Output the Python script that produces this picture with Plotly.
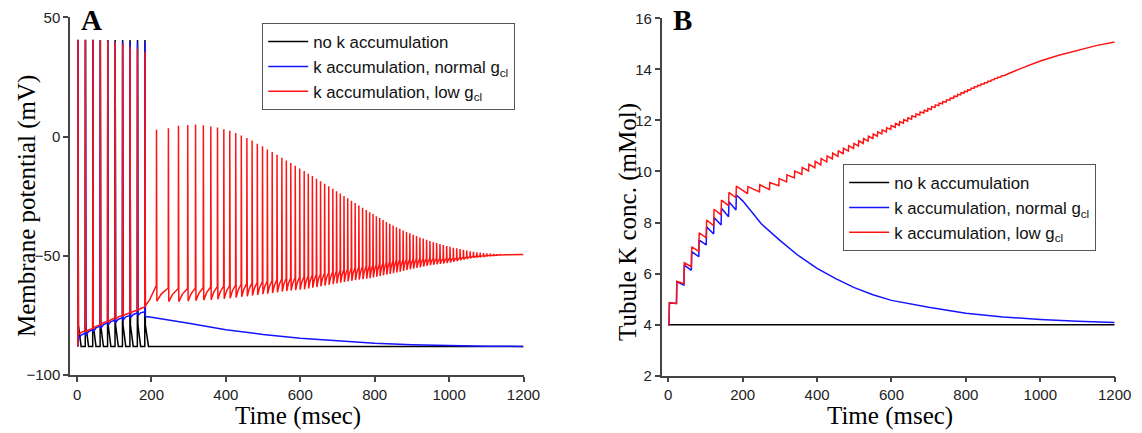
import plotly.graph_objects as go

# ---------------- data ----------------
# stimulus-driven spikes (ms), shared by all three conditions
stim_times = [2, 22, 42, 62, 82, 102, 122, 142, 162, 182]

# Panel A: membrane potential (mV)
black_peak = [40.5, 40.5, 40.5, 40.5, 40.5, 40.5, 40.5, 40.5, 40.5, 40.5]
black_pre = [-88.0, -88.0, -88.0, -88.0, -88.0, -88.0, -88.0, -88.0, -88.0, -88.0]
black_trough = [-79.0, -79.0, -79.0, -79.0, -79.0, -79.0, -79.0, -79.0, -79.0, -79.0]
black_tail_t = [192, 1200]
black_tail_v = [-88.0, -88.0]

blue_peak = [40.6, 40.6, 40.6, 40.4, 40.2, 40.0, 39.9, 39.9, 39.9, 39.9]
blue_pre = [-88.0, -82.5, -81.0, -79.5, -78.2, -77.0, -76.0, -75.0, -74.0, -73.5]
blue_trough = [-85.0, -83.5, -82.0, -80.5, -79.0, -78.0, -77.0, -76.0, -75.0, -75.5]
blue_tail_t = [200, 250, 300, 400, 500, 600, 700, 800, 900, 1000, 1100, 1200]
blue_tail_v = [-75.8, -77.0, -78.3, -81.0, -83.0, -84.6, -85.8, -86.7, -87.3, -87.7, -87.9, -88.0]

red_peak_stim = [40.6, 40.6, 40.6, 40.4, 40.2, 39.6, 38.7, 37.7, 36.7, 35.6]
red_pre_stim = [-88.0, -81.5, -80.5, -79.0, -77.5, -76.2, -75.0, -74.0, -72.8, -71.5]
red_trough_stim = [-83.0, -82.0, -80.5, -79.0, -77.8, -76.5, -75.3, -74.2, -73.0, -71.0]
red_ramp_t = [195, 205]
red_ramp_v = [-68.5, -65.5]
red_first_threshold = -62.5

# self-sustained firing after the stimulus (low gCl)
red_times = [213, 245, 272, 297, 318, 339, 359, 377, 394, 410,
             426, 441, 456, 470, 484, 498, 511, 524, 537, 550,
             562, 574, 586, 598, 610, 621, 632, 643, 654, 665,
             676, 687, 697, 707, 717, 727, 737, 747, 757, 767,
             777, 786, 795, 804, 813, 822, 831, 840, 849, 858,
             867, 876, 885, 894, 903, 912, 921, 930, 939, 948,
             957, 966, 975, 984, 993, 1002, 1011, 1020, 1029, 1038,
             1047, 1056, 1065, 1074, 1083, 1092, 1101, 1110, 1119, 1128,
             1137, 1146]
red_peak = [2.8, 3.5, 4.5, 4.8, 5.0, 4.7, 4.2, 3.8, 3.1, 2.4,
            1.5, 0.4, -0.6, -1.7, -3.0, -4.1, -5.4, -6.5, -7.6, -8.9,
            -10.0, -11.1, -12.3, -13.4, -14.5, -15.6, -16.6, -17.7, -18.7, -19.8,
            -20.8, -21.9, -22.9, -23.9, -24.9, -25.9, -26.9, -27.9, -28.9, -29.9,
            -30.8, -31.7, -32.5, -33.4, -34.2, -35.0, -35.8, -36.6, -37.3, -38.0,
            -38.7, -39.4, -40.0, -40.6, -41.2, -41.7, -42.3, -42.8, -43.3, -43.8,
            -44.3, -44.7, -45.1, -45.5, -45.9, -46.2, -46.6, -46.9, -47.2, -47.5,
            -47.8, -48.1, -48.3, -48.5, -48.7, -48.9, -49.0, -49.1, -49.2, -49.3,
            -49.3, -49.4]
red_trough = [-69.0, -69.2, -69.2, -69.0, -68.8, -68.6, -68.4, -68.2, -68.0, -67.8,
              -67.5, -67.2, -67.0, -66.7, -66.4, -66.1, -65.9, -65.6, -65.3, -65.0,
              -64.8, -64.6, -64.4, -64.2, -64.0, -63.7, -63.4, -63.1, -62.8, -62.5,
              -62.2, -61.9, -61.6, -61.3, -61.0, -60.7, -60.5, -60.2, -60.0, -59.8,
              -59.6, -59.4, -59.1, -58.8, -58.5, -58.2, -57.9, -57.6, -57.3, -57.0,
              -56.7, -56.3, -56.0, -55.7, -55.4, -55.1, -54.8, -54.5, -54.2, -54.0,
              -53.8, -53.6, -53.4, -53.2, -53.0, -52.8, -52.5, -52.2, -51.9, -51.6,
              -51.3, -51.0, -50.8, -50.6, -50.4, -50.3, -50.1, -50.0, -49.9, -49.8,
              -49.7, -49.6]
red_tail_t = [1150, 1200]
red_tail_v = [-49.6, -49.5]

# Panel B: tubular K+ concentration (mMol)
k_black_t = [0, 1200]
k_black_v = [4.0, 4.0]

k_blue_low = [4.0, 4.83, 5.55, 6.13, 6.66, 7.12, 7.55, 7.90, 8.23, 8.49]
k_blue_high = [4.85, 5.68, 6.33, 6.86, 7.31, 7.83, 8.20, 8.56, 8.81, 9.08]
k_blue_tail_t = [200, 250, 300, 350, 400, 450, 500, 550, 600, 700, 800, 900, 1000, 1100, 1200]
k_blue_tail_v = [8.85, 7.95, 7.30, 6.70, 6.20, 5.80, 5.45, 5.17, 4.95, 4.68, 4.45, 4.30, 4.20, 4.13, 4.08]

k_red_low_stim = [4.0, 4.83, 5.60, 6.27, 6.87, 7.40, 7.88, 8.30, 8.66, 8.97]
k_red_high_stim = [4.86, 5.70, 6.42, 7.05, 7.60, 8.10, 8.52, 8.88, 9.18, 9.43]
k_red_low = [9.13, 9.20, 9.29, 9.44, 9.59, 9.745, 9.89, 10.02, 10.15, 10.26,
             10.37, 10.49, 10.59, 10.69, 10.80, 10.90, 11.00, 11.10, 11.19, 11.29,
             11.38, 11.47, 11.55, 11.65, 11.73, 11.81, 11.89, 11.97, 12.05, 12.13,
             12.21, 12.29, 12.36, 12.43, 12.51, 12.58, 12.65, 12.72, 12.79, 12.87,
             12.94, 13.00, 13.07, 13.13, 13.19, 13.26, 13.32, 13.37, 13.43, 13.48,
             13.53, 13.60, 13.65, 13.70]
k_red_jump = [0.28, 0.28, 0.28, 0.28, 0.28, 0.27, 0.27, 0.26, 0.25, 0.25,
              0.24, 0.23, 0.23, 0.22, 0.21, 0.20, 0.20, 0.19, 0.19, 0.18,
              0.17, 0.16, 0.16, 0.15, 0.15, 0.14, 0.14, 0.13, 0.13, 0.12,
              0.12, 0.11, 0.11, 0.11, 0.10, 0.10, 0.09, 0.09, 0.09, 0.08,
              0.08, 0.08, 0.07, 0.07, 0.07, 0.06, 0.06, 0.06, 0.05, 0.05,
              0.05, 0.04, 0.04, 0.04]
k_red_tail_t = [903, 950, 1000, 1050, 1100, 1150, 1200]
k_red_tail_v = [13.76, 14.05, 14.33, 14.55, 14.75, 14.93, 15.07]

labels = ["no k accumulation",
          "k accumulation, normal g<sub>cl</sub>",
          "k accumulation, low g<sub>cl</sub>"]
colors = ["#000000", "#1414ff", "#ff1414"]


# ---------------- trace builders ----------------
def spike_path(times, pre, peaks, troughs, knee):
    """Action-potential train: fast upstroke, fast fall to the trough,
    then a curved recovery toward the next spike's take-off level."""
    xs, ys = [], []
    for i, t in enumerate(times):
        xs += [t, t + 0.5, t + 1.5]
        ys += [pre[i], peaks[i], troughs[i]]
        if i + 1 < len(times):
            isi = times[i + 1] - t
            xs.append(t + 1.5 + 0.4 * (isi - 1.5))
            ys.append(troughs[i] + knee * (pre[i + 1] - troughs[i]))
    return xs, ys


def step_path(times, lows, highs):
    """Concentration rises in a step at each spike and relaxes until the next."""
    xs, ys = [], []
    for t, lo, hi in zip(times, lows, highs):
        xs += [t, t + 1.0]
        ys += [lo, hi]
    return xs, ys


# Panel A traces
bx, by = spike_path(stim_times, black_pre, black_peak, black_trough, 1.0)
bx += black_tail_t
by += black_tail_v

ux, uy = spike_path(stim_times, blue_pre, blue_peak, blue_trough, 0.7)
ux += blue_tail_t
uy += blue_tail_v

rx, ry = spike_path(stim_times, red_pre_stim, red_peak_stim, red_trough_stim, 0.6)
rx += red_ramp_t
ry += red_ramp_v
red_pre = [red_first_threshold] + [
    red_trough[i - 1] + min(5.5, 0.3 * (red_peak[i] - red_trough[i - 1]))
    for i in range(1, len(red_times))
]
px, py = spike_path(red_times, red_pre, red_peak, red_trough, 0.55)
rx += px + red_tail_t
ry += py + red_tail_v

# Panel B traces
kux, kuy = step_path([0] + stim_times, [4.0] + k_blue_low, [4.0] + k_blue_high)
kux += k_blue_tail_t
kuy += k_blue_tail_v

krx, kry = step_path([0] + stim_times, [4.0] + k_red_low_stim, [4.0] + k_red_high_stim)
post_t = red_times[:len(k_red_low)]
post_hi = [lo + j for lo, j in zip(k_red_low, k_red_jump)]
sx, sy = step_path(post_t, k_red_low, post_hi)
krx += sx + k_red_tail_t
kry += sy + k_red_tail_v

# ---------------- figure ----------------
fig = go.Figure()
panel_a = [(bx, by), (ux, uy), (rx, ry)]
panel_b = [(k_black_t, k_black_v), (kux, kuy), (krx, kry)]

for (x, y), name, c in zip(panel_a, labels, colors):
    fig.add_trace(go.Scatter(x=x, y=y, mode="lines", name=name,
                             line=dict(color=c, width=1.5),
                             xaxis="x", yaxis="y", legend="legend"))
for (x, y), name, c in zip(panel_b, labels, colors):
    fig.add_trace(go.Scatter(x=x, y=y, mode="lines", name=name,
                             line=dict(color=c, width=1.5),
                             xaxis="x2", yaxis="y2", legend="legend2"))

W, H = 1142, 433
sans = "Liberation Sans, Arial, Helvetica, sans-serif"
serif = "Liberation Serif, Times New Roman, serif"

axis_style = dict(showline=True, linecolor="#444", linewidth=1.5,
                  ticks="outside", ticklen=5, tickwidth=1.5, tickcolor="#444",
                  showgrid=False, zeroline=False, mirror=False, automargin=False,
                  tickfont=dict(family=sans, size=15, color="#222"))

legend_style = dict(font=dict(family=sans, size=16.8, color="#111"),
                    bgcolor="white", bordercolor="#555", borderwidth=1.2,
                    itemwidth=40, xanchor="left", yanchor="top",
                    tracegroupgap=0, itemclick=False)

fig.update_layout(
    width=W, height=H, autosize=False,
    margin=dict(l=0, r=0, t=0, b=0, pad=0, autoexpand=False),
    paper_bgcolor="white", plot_bgcolor="white",
    xaxis=dict(domain=[70 / W, 523.5 / W], range=[-19, 1200],
               tickvals=[0, 200, 400, 600, 800, 1000, 1200], anchor="y", **axis_style),
    yaxis=dict(domain=[58 / H, 415.7 / H], range=[-100, 50],
               tickvals=[-100, -50, 0, 50], anchor="x", **axis_style),
    xaxis2=dict(domain=[661.7 / W, 1114.7 / W], range=[-17.7, 1200],
                tickvals=[0, 200, 400, 600, 800, 1000, 1200], anchor="y2", **axis_style),
    yaxis2=dict(domain=[57.3 / H, 414.7 / H], range=[2, 16],
                tickvals=[2, 4, 6, 8, 10, 12, 14, 16], anchor="x2", **axis_style),
    legend=dict(x=262 / W, y=1 - 23 / H, **legend_style),
    legend2=dict(x=843 / W, y=1 - 164 / H, **legend_style),
    showlegend=True,
)

annotations = [
    dict(text="<b>A</b>", x=91 / W, y=1 - 20.5 / H, font=dict(family=serif, size=29, color="#000")),
    dict(text="<b>B</b>", x=683 / W, y=1 - 20.5 / H, font=dict(family=serif, size=29, color="#000")),
    dict(text="Membrane potential (mV)", x=27 / W, y=1 - 206 / H, textangle=-90,
         font=dict(family=serif, size=25, color="#000")),
    dict(text="Tubule K conc. (mMol)", x=628 / W, y=1 - 222 / H, textangle=-90,
         font=dict(family=serif, size=25, color="#000")),
    dict(text="Time (msec)", x=297.5 / W, y=1 - 416 / H, font=dict(family=serif, size=25, color="#000")),
    dict(text="Time (msec)", x=890 / W, y=1 - 416 / H, font=dict(family=serif, size=25, color="#000")),
]
for a in annotations:
    a.update(xref="paper", yref="paper", xanchor="center", yanchor="middle", showarrow=False)
fig.update_layout(annotations=annotations)

fig.write_html("out.html")
